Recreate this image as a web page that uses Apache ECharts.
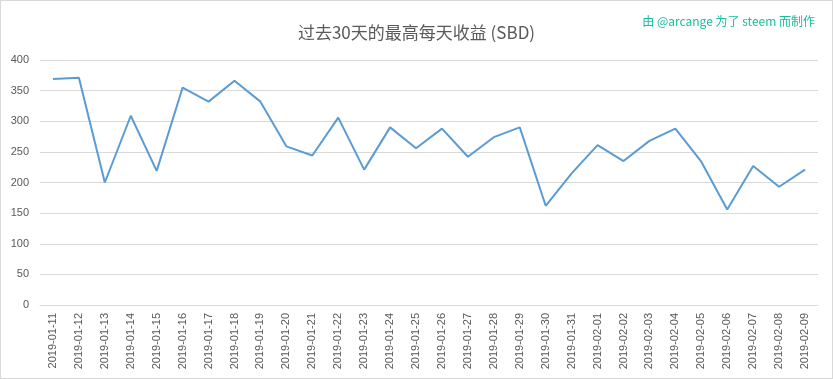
<!DOCTYPE html>
<html>
<head>
<meta charset="utf-8">
<script src="https://cdn.jsdelivr.net/npm/echarts@6/dist/echarts.min.js"></script>
<style>
html,body{margin:0;padding:0;background:#fff;}
#c{width:833px;height:379px;box-sizing:border-box;border:1px solid #d9d9d9;}
</style>
</head>
<body>
<div id="c"></div>
<script>
var categories = ['2019-01-11','2019-01-12','2019-01-13','2019-01-14','2019-01-15','2019-01-16','2019-01-17','2019-01-18','2019-01-19','2019-01-20','2019-01-21','2019-01-22','2019-01-23','2019-01-24','2019-01-25','2019-01-26','2019-01-27','2019-01-28','2019-01-29','2019-01-30','2019-01-31','2019-02-01','2019-02-02','2019-02-03','2019-02-04','2019-02-05','2019-02-06','2019-02-07','2019-02-08','2019-02-09'];
var values = [369,371,200,309,219,355,332,366,332,259,244,306,221,290,256,288,242,274,290,162,215,261,235,268,288,234,156,227,193,221];
var titleText = '过去30天的最高每天收益 (SBD)';
var creditText = '由 @arcange 为了 steem 而制作';

var chart = echarts.init(document.getElementById('c'));
chart.setOption({
  animation:false,
  title:[{
    text:titleText, left:'center', top:18,
    textStyle:{fontFamily:'Noto Sans CJK SC, sans-serif', fontSize:17, fontWeight:'normal', color:'#595959'}
  },{
    text:creditText, right:12, top:9,
    textStyle:{fontFamily:'Noto Sans CJK SC, sans-serif', fontSize:12, fontWeight:'normal', color:'#1abc9c'}
  }],
  grid:{left:39, right:14, top:59, bottom:73, containLabel:false},
  xAxis:{
    type:'category', data:categories, boundaryGap:true,
    axisLine:{show:true, lineStyle:{color:'#d9d9d9'}},
    axisTick:{show:false},
    axisLabel:{rotate:90, interval:0, fontSize:11, color:'#595959', fontFamily:'Liberation Sans, sans-serif', margin:8}
  },
  yAxis:{
    type:'value', min:0, max:400, interval:50,
    axisLine:{show:false}, axisTick:{show:false},
    axisLabel:{fontSize:11, color:'#595959', fontFamily:'Liberation Sans, sans-serif', margin:11},
    splitLine:{lineStyle:{color:'#d9d9d9'}}
  },
  series:[{
    type:'line', data:values, showSymbol:false, symbol:'none',
    lineStyle:{color:'#5b9bd5', width:2},
    itemStyle:{color:'#5b9bd5'}
  }]
});
</script>
</body>
</html>
